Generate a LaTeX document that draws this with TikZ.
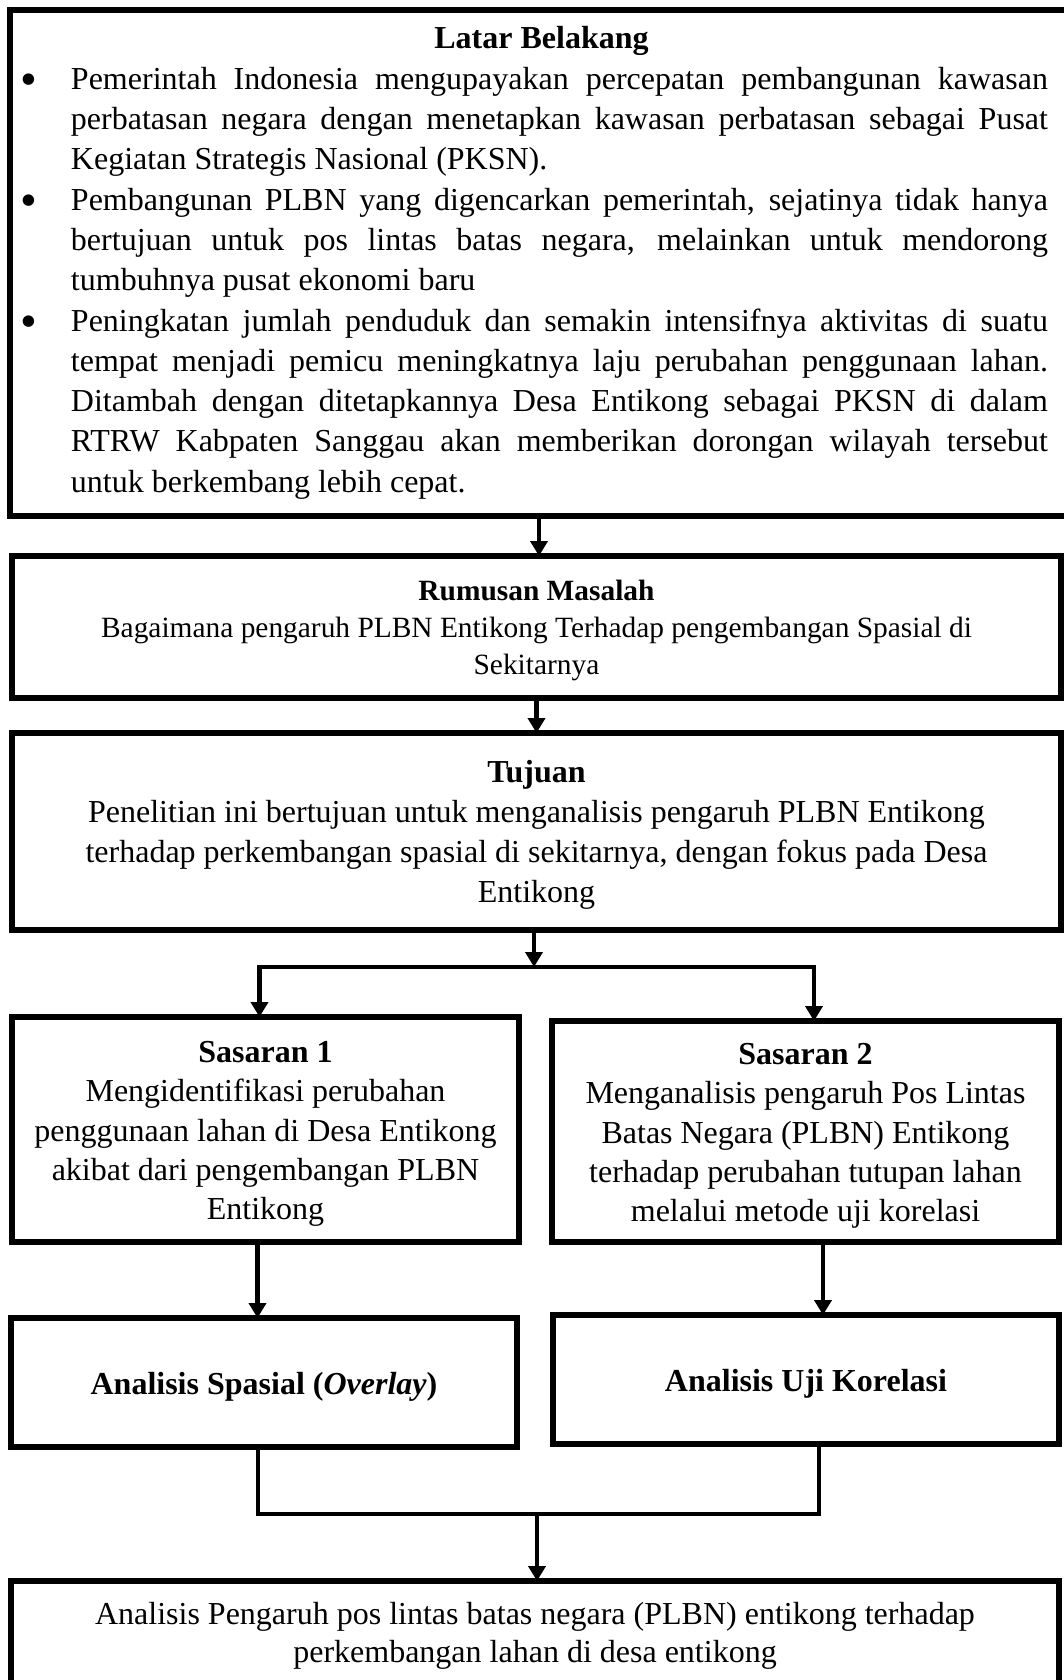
\documentclass[tikz,border=0pt]{standalone}
\usepackage{fontspec}
\setmainfont{Liberation Serif}
\usepackage{graphicx}
\usepackage{tikz}
\usetikzlibrary{arrows.meta, positioning}
\hyphenpenalty=10000
\exhyphenpenalty=10000
\tolerance=9999
\tikzset{
	kotak/.style={
		rectangle,
		draw=black,
		line width=3pt,
		align=center,
		inner sep=0pt,
		outer sep=0pt,
		font=\fontsize{16}{19.6}\selectfont
	},
	garis/.style={line width=2.2pt},
	panah/.style={garis, -{Triangle[length=7.5pt, width=8.5pt]}}
}
\newcommand{\butir}[1]{% satu butir daftar
	\noindent\llap{\makebox[0pt]{\raisebox{-3pt}{\scalebox{1.5}{\textbullet}}}\hspace{21pt}}#1\par
}
\newcommand{\atas}{\rule{0pt}{15pt}}% geser teks sedikit ke bawah

\begin{document}
\begin{tikzpicture}[x=0.5pt, y=-0.5pt]
	\useasboundingbox (0,0) rectangle (1064,1680);
	\clip (0,0) rectangle (1064,1680);

	\node[kotak, align=justify, text width=519pt, minimum width=531.5pt, minimum height=253pt,
		font=\fontsize{16}{20.15}\selectfont] (latar) at (541.5,263) {%
		{\centering\textbf{Latar Belakang}\par}
		\leftskip=24.25pt \rightskip=6.25pt \parfillskip=0pt plus 1fil
		\butir{Pemerintah Indonesia mengupayakan percepatan pembangunan kawasan\linebreak
			perbatasan negara dengan menetapkan kawasan perbatasan sebagai Pusat\linebreak
			Kegiatan Strategis Nasional (PKSN).}
		\butir{Pembangunan PLBN yang digencarkan pemerintah, sejatinya tidak hanya\linebreak
			bertujuan untuk pos lintas batas negara, melainkan untuk mendorong\linebreak
			tumbuhnya pusat ekonomi baru}
		\butir{Peningkatan jumlah penduduk dan semakin intensifnya aktivitas di suatu\linebreak
			tempat menjadi pemicu meningkatnya laju perubahan penggunaan lahan.\linebreak
			Ditambah dengan ditetapkannya Desa Entikong sebagai PKSN di dalam\linebreak
			RTRW Kabpaten Sanggau akan memberikan dorongan wilayah tersebut\linebreak
			untuk berkembang lebih cepat.}
	};
	\node[kotak, minimum width=524.5pt, minimum height=71pt,
		font=\fontsize{14.7}{18.5}\selectfont] (rumusan) at (536.5,627)
		{\rule{0pt}{13.8pt}\textbf{Rumusan Masalah}\\
		Bagaimana pengaruh PLBN Entikong Terhadap pengembangan Spasial di\\
		Sekitarnya};
	\node[kotak, minimum width=524.5pt, minimum height=98.5pt,
		font=\fontsize{16}{20}\selectfont] (tujuan) at (536.5,831.5)
		{\rule{0pt}{14pt}\textbf{Tujuan}\\
		Penelitian ini bertujuan untuk menganalisis pengaruh PLBN Entikong\\
		terhadap perkembangan spasial di sekitarnya, dengan fokus pada Desa\\
		Entikong};
	\node[kotak, minimum width=253.5pt, minimum height=112.5pt] (sasaran1) at (265.5,1129.5)
		{\atas\textbf{Sasaran 1}\\
		Mengidentifikasi perubahan\\
		penggunaan lahan di Desa Entikong\\
		akibat dari pengembangan PLBN\\
		Entikong};
	\node[kotak, minimum width=253.5pt, minimum height=110.5pt] (sasaran2) at (805.5,1131.5)
		{\atas\textbf{Sasaran 2}\\
		Menganalisis pengaruh Pos Lintas\\
		Batas Negara (PLBN) Entikong\\
		terhadap perubahan tutupan lahan\\
		melalui metode uji korelasi};
	\node[kotak, minimum width=253pt, minimum height=64.5pt] (spasial) at (264,1382.5)
		{\atas\textbf{Analisis Spasial (\textit{Overlay})}};
	\node[kotak, minimum width=253pt, minimum height=64.5pt] (korelasi) at (806,1379.5)
		{\atas\textbf{Analisis Uji Korelasi}};
	\node[kotak, minimum width=524pt, minimum height=54.5pt,
		font=\fontsize{16}{19}\selectfont] (hasil) at (535,1635.5)
		{Analisis Pengaruh pos lintas batas negara (PLBN) entikong terhadap\\
		perkembangan lahan di desa entikong};

	\coordinate (cabang) at (534,967);
	\coordinate (gabung) at (537,1514);

	\draw[panah] ([xshift=-1.25pt]latar.south) -- ([xshift=-1.25pt]latar.south |- rumusan.north);
	\draw[panah] (rumusan.south) -- (tujuan.north);
	\draw[panah] (tujuan.south -| cabang) -- (cabang);
	\draw[panah] (cabang) -| ([xshift=-3pt]sasaran1.north);
	\draw[panah] (cabang) -| ([xshift=4.25pt]sasaran2.north);
	\draw[panah] ([xshift=-4pt]sasaran1.south) -- ([xshift=-4pt]sasaran1.south |- spasial.north);
	\draw[panah] ([xshift=8.75pt]sasaran2.south) -- ([xshift=8.75pt]sasaran2.south |- korelasi.north);
	\draw[garis] ([xshift=-3pt]spasial.south) |- (gabung) -| ([xshift=6.5pt]korelasi.south);
	\draw[panah] (gabung) -- (gabung |- hasil.north);
\end{tikzpicture}
\end{document}
